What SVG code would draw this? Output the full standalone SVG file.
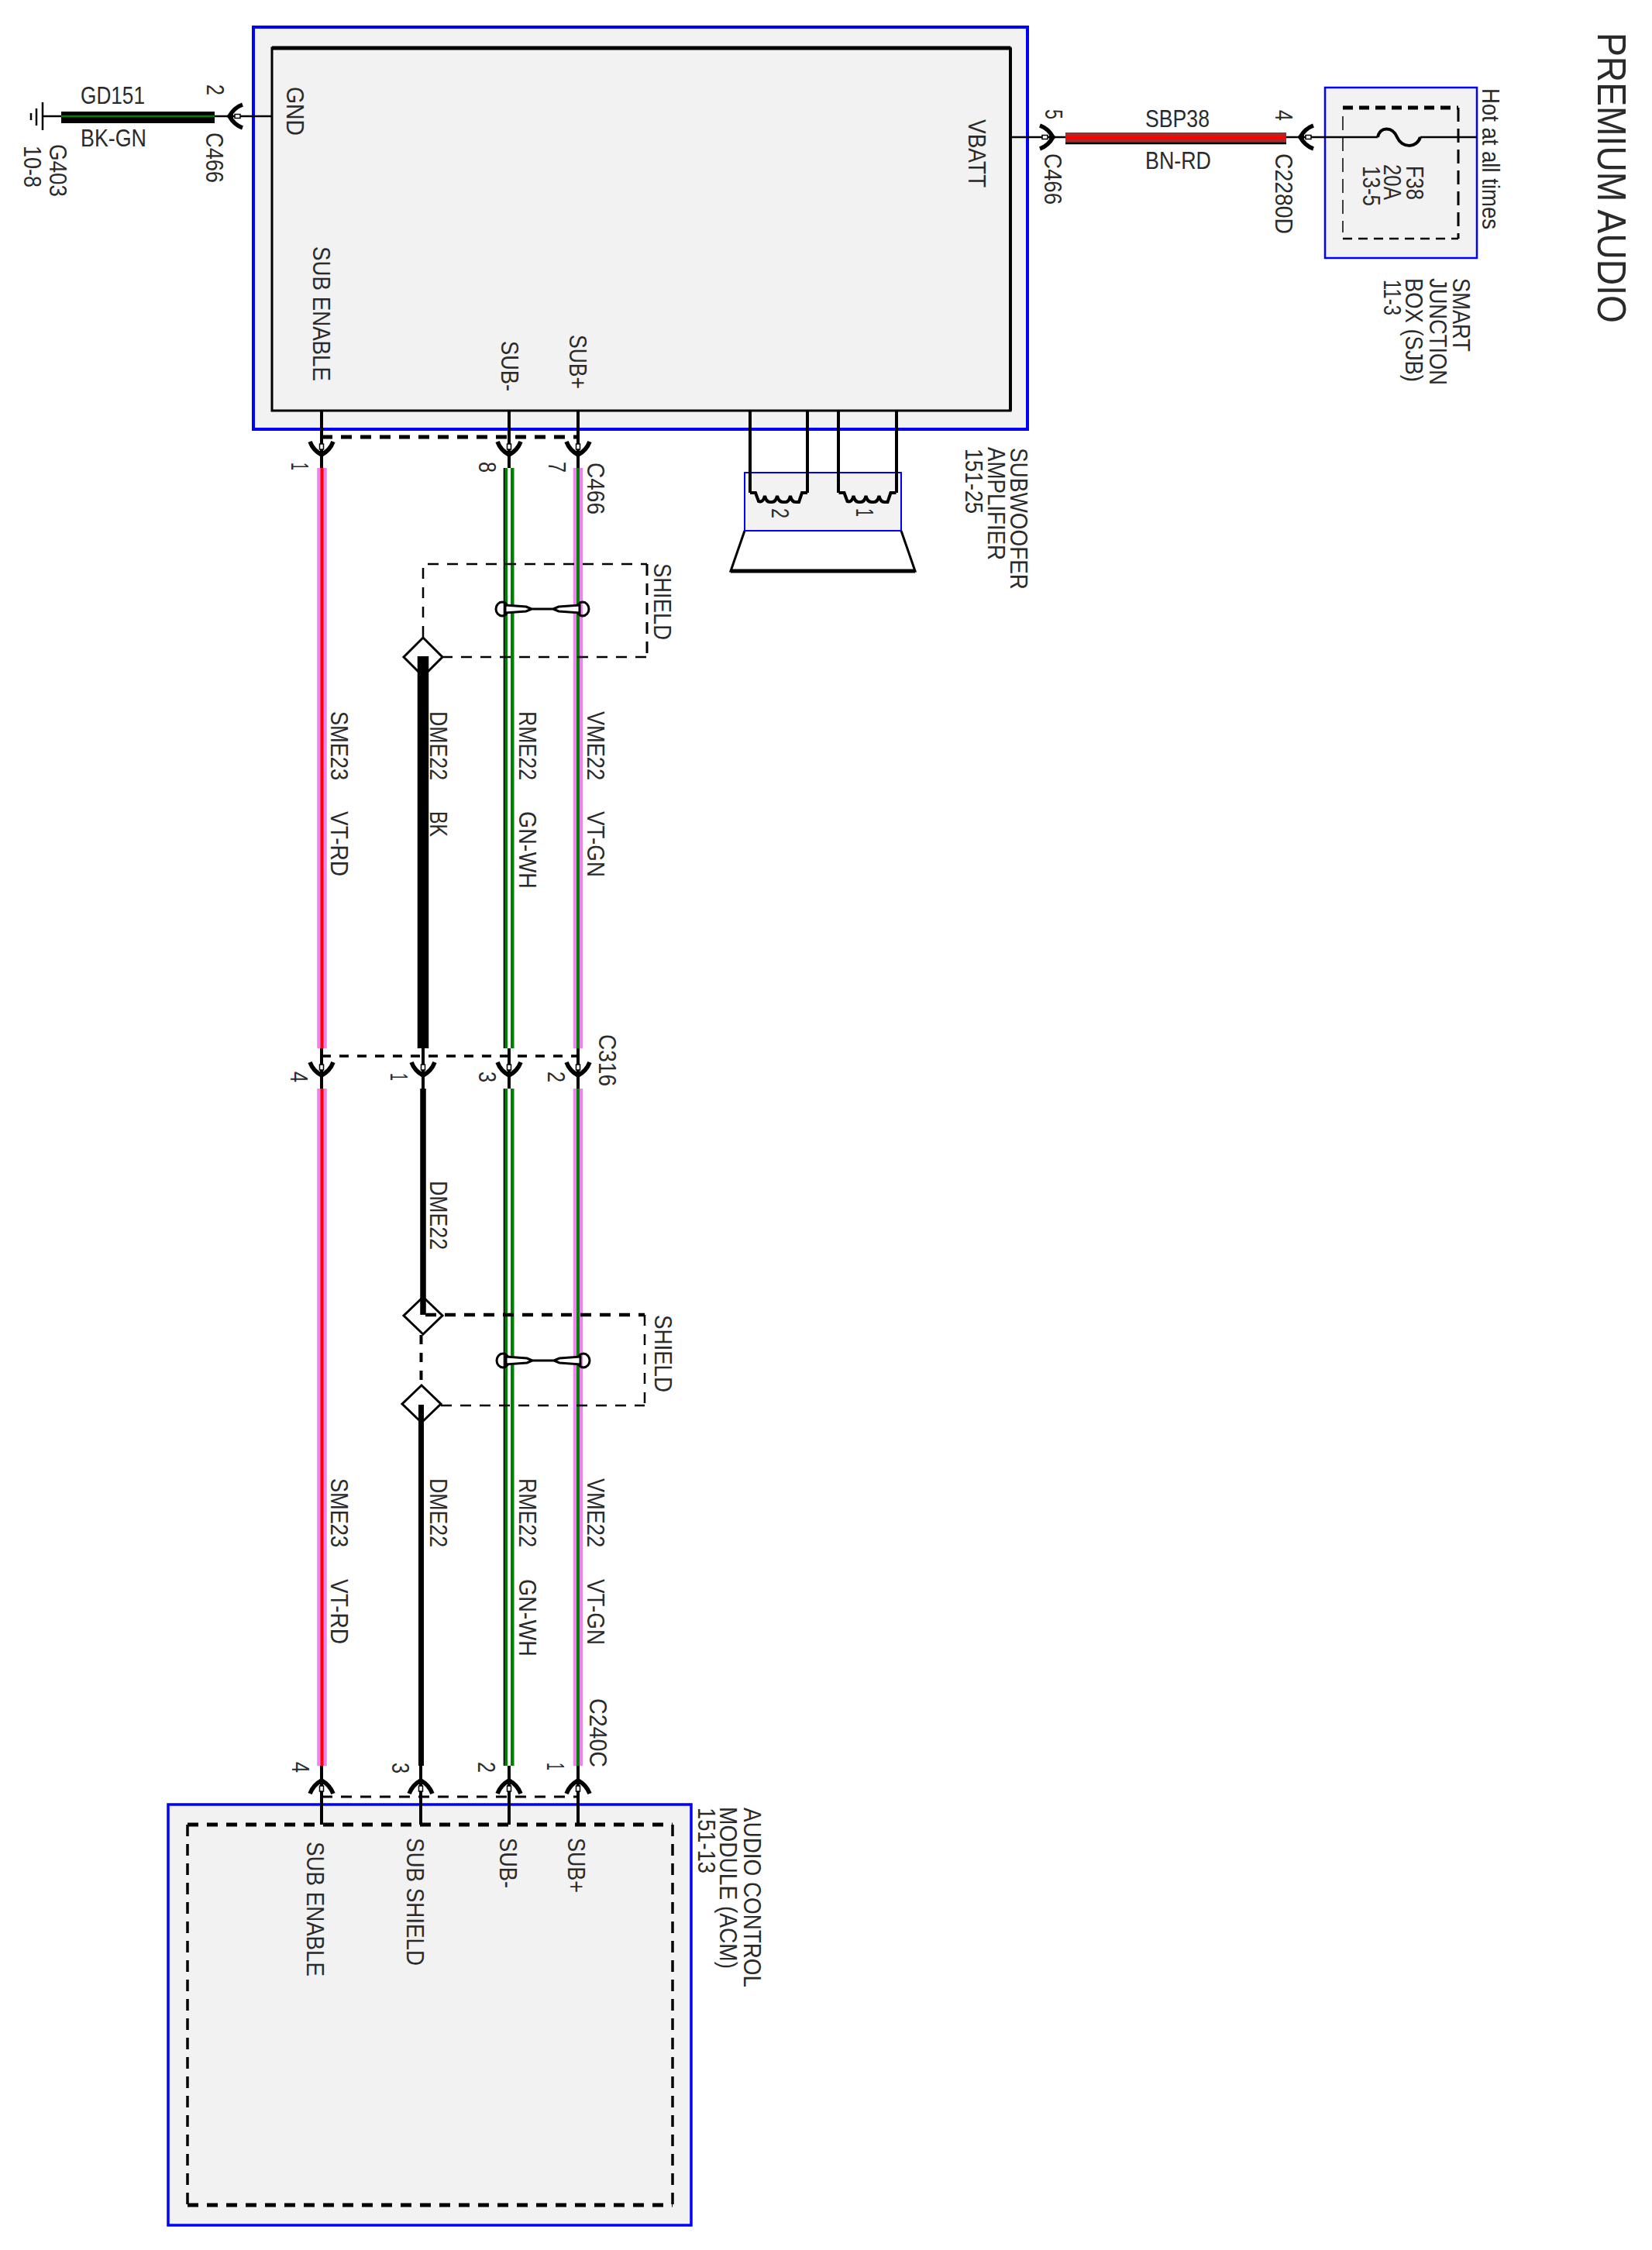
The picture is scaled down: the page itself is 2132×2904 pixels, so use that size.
<svg xmlns="http://www.w3.org/2000/svg" xmlns:xlink="http://www.w3.org/1999/xlink" width="2132" height="2904" viewBox="0 0 2132 2904">
<style>
text{font-family:"Liberation Sans",Arial,sans-serif;font-size:30.500px;fill:#2a2a2a}
.box{fill:#f2f2f2;stroke:#0000ff;stroke-width:4}
.inner{fill:none;stroke:#000;stroke-width:3}
.w{fill:none;stroke:#000;stroke-width:4}
.thin{fill:none;stroke:#000;stroke-width:2.5}
.d1{fill:none;stroke:#000;stroke-width:5;stroke-dasharray:14 11}
.d2{fill:none;stroke:#000;stroke-width:3.5;stroke-dasharray:12 11}
.d3{fill:none;stroke:#000;stroke-width:2.5;stroke-dasharray:14 11}
.d4{fill:none;stroke:#000;stroke-width:3.5;stroke-dasharray:15 10}
.vio{fill:none;stroke:#ee82ee;stroke-width:12.5}
.red{fill:none;stroke:#ff0000;stroke-width:4}
.grn{fill:none;stroke:#008000;stroke-width:4}
.gw{fill:none;stroke:#008000;stroke-width:13}
.gwc{fill:none;stroke:#fff;stroke-width:4}
.gwe{fill:none;stroke:#000;stroke-width:1.6}
.dia{fill:none;stroke:#000;stroke-width:3}
</style>
<defs>
<g id="chev">
<path d="M-15,-18Q-11,-7 0,-1Q11,-7 15,-18" fill="none" stroke="#000" stroke-width="5.500"/>
<path d="M-5,-6L0,4L5,-6Z" fill="#000"/>
<rect x="-2.500" y="-15" width="5" height="7" fill="#fff" stroke="#000" stroke-width="1.500"/>
</g>
<path id="coil" d="M968,636H975L979,647Q985,649 987,640Q989,649 995,648Q1001,649 1003,640Q1005,649 1012,648Q1018,649 1020,640Q1022,649 1028,648H1031L1035,636H1042" fill="none" stroke="#000" stroke-width="4"/>
<g id="twist">
<ellipse cx="648" cy="786" rx="8" ry="9" fill="none" stroke="#000" stroke-width="3"/>
<ellipse cx="752" cy="786" rx="8" ry="9" fill="none" stroke="#000" stroke-width="3"/>
<path d="M652,781L679,783L686,786H714L721,783L748,781V791L721,789L714,786H686L679,789L652,791Z" fill="#fff" stroke="#000" stroke-width="3"/>
</g>
</defs>

<g id="amplifier">
<rect class="box" x="327" y="35" width="999" height="519"/>
<rect class="inner" x="351" y="62" width="953" height="468"/>
<path d="M351,62H1304" stroke="#000" stroke-width="5" fill="none"/>
<path d="M1304,62V530" stroke="#000" stroke-width="4" fill="none"/>
<text transform="translate(370,112) rotate(90)" textLength="63" lengthAdjust="spacingAndGlyphs">GND</text>
<text transform="translate(404,318) rotate(90)" textLength="174" lengthAdjust="spacingAndGlyphs">SUB ENABLE</text>
<text transform="translate(647,440) rotate(90)" textLength="65" lengthAdjust="spacingAndGlyphs">SUB-</text>
<text transform="translate(735,432) rotate(90)" textLength="70" lengthAdjust="spacingAndGlyphs">SUB+</text>
<text transform="translate(1250,154) rotate(90)" textLength="88" lengthAdjust="spacingAndGlyphs">VBATT</text>
<text transform="translate(1304,578) rotate(90)" textLength="183" lengthAdjust="spacingAndGlyphs">SUBWOOFER</text>
<text transform="translate(1275,577) rotate(90)" textLength="146" lengthAdjust="spacingAndGlyphs">AMPLIFIER</text>
<text transform="translate(1246,579) rotate(90)" textLength="84" lengthAdjust="spacingAndGlyphs">151-25</text>
</g>

<g id="speaker">
<rect x="961" y="610" width="202" height="75" fill="#f2f2f2" stroke="#0000ff" stroke-width="2"/>
<path d="M961,685L943,737H1181L1163,685" fill="none" stroke="#000" stroke-width="3"/>
<path d="M943,737H1181" fill="none" stroke="#000" stroke-width="5"/>
<path class="w" d="M968,530V636M1042,530V636M1082,530V636M1157,530V636"/>
<use xlink:href="#coil" href="#coil"/>
<use xlink:href="#coil" href="#coil" transform="translate(114.500,0)"/>
<text transform="translate(996,656) rotate(90)" textLength="13" lengthAdjust="spacingAndGlyphs">2</text>
<text transform="translate(1105,656) rotate(90)" textLength="11" lengthAdjust="spacingAndGlyphs">1</text>
</g>

<g id="sjb">
<rect x="1710" y="113" width="196" height="220" fill="#f2f2f2" stroke="#0000ff" stroke-width="2.500"/>
<path d="M1733,139H1882" fill="none" stroke="#000" stroke-width="5" stroke-dasharray="13 8"/>
<path d="M1882,139V308" fill="none" stroke="#000" stroke-width="3" stroke-dasharray="18 9"/>
<path d="M1733,308H1882" fill="none" stroke="#000" stroke-width="2.500" stroke-dasharray="12 8"/>
<path d="M1733,150V300" fill="none" stroke="#000" stroke-width="1.500" stroke-dasharray="18 9"/>
<path class="thin" d="M1778,177C1781,163 1797,163 1803,177C1809,191 1828,192 1833,177" style="stroke-width:4"/>
<text transform="translate(1815,214) rotate(90)" textLength="44" lengthAdjust="spacingAndGlyphs">F38</text>
<text transform="translate(1786,212) rotate(90)" textLength="46" lengthAdjust="spacingAndGlyphs">20A</text>
<text transform="translate(1759,214) rotate(90)" textLength="52" lengthAdjust="spacingAndGlyphs">13-5</text>
<text transform="translate(1913,114) rotate(90)" textLength="182" lengthAdjust="spacingAndGlyphs">Hot at all times</text>
<text transform="translate(1875,359) rotate(90)" textLength="95" lengthAdjust="spacingAndGlyphs">SMART</text>
<text transform="translate(1845,359) rotate(90)" textLength="138" lengthAdjust="spacingAndGlyphs">JUNCTION</text>
<text transform="translate(1814,359) rotate(90)" textLength="134" lengthAdjust="spacingAndGlyphs">BOX (SJB)</text>
<text transform="translate(1786,361) rotate(90)" textLength="46" lengthAdjust="spacingAndGlyphs">11-3</text>
</g>

<g id="acm">
<rect x="217" y="2329" width="675" height="543" fill="#f2f2f2" stroke="#0000ff" stroke-width="3.500"/>
<path class="d1" d="M242,2355H868"/>
<path class="d4" d="M868,2355V2846M242,2355V2846"/>
<path class="d1" d="M242,2846H868"/>
<text transform="translate(396,2377) rotate(90)" textLength="174" lengthAdjust="spacingAndGlyphs">SUB ENABLE</text>
<text transform="translate(525,2372) rotate(90)" textLength="165" lengthAdjust="spacingAndGlyphs">SUB SHIELD</text>
<text transform="translate(645,2372) rotate(90)" textLength="65" lengthAdjust="spacingAndGlyphs">SUB-</text>
<text transform="translate(733,2372) rotate(90)" textLength="71" lengthAdjust="spacingAndGlyphs">SUB+</text>
<text transform="translate(960,2333) rotate(90)" textLength="232" lengthAdjust="spacingAndGlyphs">AUDIO CONTROL</text>
<text transform="translate(929,2332) rotate(90)" textLength="209" lengthAdjust="spacingAndGlyphs">MODULE (ACM)</text>
<text transform="translate(901,2333) rotate(90)" textLength="85" lengthAdjust="spacingAndGlyphs">151-13</text>
</g>

<g id="ground-g403">
<path class="thin" d="M55,132V168"/>
<path class="thin" d="M47,140V162"/>
<path class="thin" d="M40,146V155"/>
<text transform="translate(64,186) rotate(90)" textLength="68" lengthAdjust="spacingAndGlyphs">G403</text>
<text transform="translate(31,188) rotate(90)" textLength="54" lengthAdjust="spacingAndGlyphs">10-8</text>
</g>

<g id="connectors">
<path class="thin" d="M55,150H351M1305,177H1778M1833,177H1906"/>
<path class="w" d="M415,530V604M657,530V604M746,530V604M415,1353V1405M546,1353V1405M657,1353V1405M746,1353V1405M415,2279V2355M543,2279V2355M657,2279V2355M746,2279V2355"/>
<path d="M79,151.500H277" fill="none" stroke="#000" stroke-width="15"/>
<path d="M79,150H277" fill="none" stroke="#008000" stroke-width="2.500"/>
<path d="M1375,178.500H1660" fill="none" stroke="#a52a2a" stroke-width="15"/>
<path d="M1375,178H1660" fill="none" stroke="#ff0000" stroke-width="4"/>
<path d="M1375,185H1660" fill="none" stroke="#000" stroke-width="2.500"/>
<path class="vio" d="M415.500,604V1353M415.500,1405V2279"/>
<path class="red" d="M415.500,604V1353M415.500,1405V2279"/>
<path d="M546,847V1353" fill="none" stroke="#000" stroke-width="14.500"/>
<path d="M546,1405V1697" fill="none" stroke="#000" stroke-width="7.500"/>
<path d="M543.500,1813V2279" fill="none" stroke="#000" stroke-width="7"/>
<path class="gw" d="M657,604V1353M657,1405V2279"/>
<path class="gwc" d="M657,604V1353M657,1405V2279"/>
<path class="gwe" d="M650.500,604V1353M650.500,1405V2279"/>
<path class="vio" d="M746,604V1353M746,1405V2279"/>
<path class="grn" d="M746,604V1353M746,1405V2279"/>
<path class="d1" d="M415,564H746"/>
<path class="d2" d="M415,1363H746"/>
<path class="d3" d="M415,2319H746" style="stroke-width:3"/>
<path class="d3" d="M546,822V728H835"/>
<path class="d4" d="M835,728V848" style="stroke-width:3"/>
<path class="d3" d="M570,848H835"/>
<path class="dia" d="M546,823L571,848L546,873L521,848Z"/>
<path class="d1" d="M549,1697H832" style="stroke-width:4.500"/>
<path class="d3" d="M832,1697V1814"/>
<path class="d3" d="M569,1814H832"/>
<path class="d2" d="M543.500,1723V1788" style="stroke-width:4"/>
<path class="dia" d="M546,1674L571,1698L546,1722L521,1698Z"/>
<path class="dia" d="M544,1788L569,1812L544,1836L519,1812Z"/>
<use xlink:href="#twist" href="#twist"/>
<use xlink:href="#twist" href="#twist" transform="translate(1,970)"/>
<use xlink:href="#chev" href="#chev" transform="translate(295,150) rotate(90)"/>
<use xlink:href="#chev" href="#chev" transform="translate(1360,177) rotate(-90)"/>
<use xlink:href="#chev" href="#chev" transform="translate(1677,177) rotate(90)"/>
<use xlink:href="#chev" href="#chev" transform="translate(415,588)"/>
<use xlink:href="#chev" href="#chev" transform="translate(657,588)"/>
<use xlink:href="#chev" href="#chev" transform="translate(746,588)"/>
<use xlink:href="#chev" href="#chev" transform="translate(415,1389)"/>
<use xlink:href="#chev" href="#chev" transform="translate(546,1389)"/>
<use xlink:href="#chev" href="#chev" transform="translate(657,1389)"/>
<use xlink:href="#chev" href="#chev" transform="translate(746,1389)"/>
<use xlink:href="#chev" href="#chev" transform="translate(415,2297) rotate(180)"/>
<use xlink:href="#chev" href="#chev" transform="translate(543,2297) rotate(180)"/>
<use xlink:href="#chev" href="#chev" transform="translate(657,2297) rotate(180)"/>
<use xlink:href="#chev" href="#chev" transform="translate(746,2297) rotate(180)"/>
</g>

<g id="labels">
<text transform="translate(2062,42) rotate(90)" textLength="375" lengthAdjust="spacingAndGlyphs" style="font-size:52px">PREMIUM AUDIO</text>
<text x="104" y="134" textLength="83" lengthAdjust="spacingAndGlyphs">GD151</text>
<text x="104" y="189" textLength="85" lengthAdjust="spacingAndGlyphs">BK-GN</text>
<text transform="translate(267,109) rotate(90)" textLength="14" lengthAdjust="spacingAndGlyphs">2</text>
<text transform="translate(266,171) rotate(90)" textLength="65" lengthAdjust="spacingAndGlyphs">C466</text>
<text transform="translate(1349,141) rotate(90)" textLength="13" lengthAdjust="spacingAndGlyphs">5</text>
<text transform="translate(1348,198) rotate(90)" textLength="66" lengthAdjust="spacingAndGlyphs">C466</text>
<text transform="translate(1646,142) rotate(90)" textLength="14" lengthAdjust="spacingAndGlyphs">4</text>
<text transform="translate(1646,198) rotate(90)" textLength="104" lengthAdjust="spacingAndGlyphs">C2280D</text>
<text x="1478" y="164" textLength="83" lengthAdjust="spacingAndGlyphs">SBP38</text>
<text x="1478" y="218" textLength="85" lengthAdjust="spacingAndGlyphs">BN-RD</text>

<text transform="translate(376,597) rotate(90)" textLength="10" lengthAdjust="spacingAndGlyphs">1</text>
<text transform="translate(618,596) rotate(90)" textLength="14" lengthAdjust="spacingAndGlyphs">8</text>
<text transform="translate(708,596) rotate(90)" textLength="14" lengthAdjust="spacingAndGlyphs">7</text>
<text transform="translate(758,597) rotate(90)" textLength="67" lengthAdjust="spacingAndGlyphs">C466</text>
<text transform="translate(844,727) rotate(90)" textLength="99" lengthAdjust="spacingAndGlyphs">SHIELD</text>

<text transform="translate(427,918) rotate(90)" textLength="89" lengthAdjust="spacingAndGlyphs">SME23</text>
<text transform="translate(427,1047) rotate(90)" textLength="84" lengthAdjust="spacingAndGlyphs">VT-RD</text>
<text transform="translate(555,918) rotate(90)" textLength="89" lengthAdjust="spacingAndGlyphs">DME22</text>
<text transform="translate(555,1047) rotate(90)" textLength="33" lengthAdjust="spacingAndGlyphs">BK</text>
<text transform="translate(670,918) rotate(90)" textLength="89" lengthAdjust="spacingAndGlyphs">RME22</text>
<text transform="translate(670,1047) rotate(90)" textLength="100" lengthAdjust="spacingAndGlyphs">GN-WH</text>
<text transform="translate(758,918) rotate(90)" textLength="89" lengthAdjust="spacingAndGlyphs">VME22</text>
<text transform="translate(758,1047) rotate(90)" textLength="85" lengthAdjust="spacingAndGlyphs">VT-GN</text>

<text transform="translate(773,1335) rotate(90)" textLength="67" lengthAdjust="spacingAndGlyphs">C316</text>
<text transform="translate(375,1383) rotate(90)" textLength="14" lengthAdjust="spacingAndGlyphs">4</text>
<text transform="translate(504,1385) rotate(90)" textLength="10" lengthAdjust="spacingAndGlyphs">1</text>
<text transform="translate(618,1383) rotate(90)" textLength="14" lengthAdjust="spacingAndGlyphs">3</text>
<text transform="translate(707,1383) rotate(90)" textLength="14" lengthAdjust="spacingAndGlyphs">2</text>

<text transform="translate(555,1524) rotate(90)" textLength="89" lengthAdjust="spacingAndGlyphs">DME22</text>
<text transform="translate(845,1697) rotate(90)" textLength="100" lengthAdjust="spacingAndGlyphs">SHIELD</text>

<text transform="translate(427,1908) rotate(90)" textLength="89" lengthAdjust="spacingAndGlyphs">SME23</text>
<text transform="translate(427,2038) rotate(90)" textLength="84" lengthAdjust="spacingAndGlyphs">VT-RD</text>
<text transform="translate(555,1908) rotate(90)" textLength="89" lengthAdjust="spacingAndGlyphs">DME22</text>
<text transform="translate(670,1908) rotate(90)" textLength="89" lengthAdjust="spacingAndGlyphs">RME22</text>
<text transform="translate(670,2038) rotate(90)" textLength="100" lengthAdjust="spacingAndGlyphs">GN-WH</text>
<text transform="translate(758,1908) rotate(90)" textLength="89" lengthAdjust="spacingAndGlyphs">VME22</text>
<text transform="translate(758,2038) rotate(90)" textLength="85" lengthAdjust="spacingAndGlyphs">VT-GN</text>

<text transform="translate(761,2192) rotate(90)" textLength="89" lengthAdjust="spacingAndGlyphs">C240C</text>
<text transform="translate(377,2274) rotate(90)" textLength="14" lengthAdjust="spacingAndGlyphs">4</text>
<text transform="translate(506,2275) rotate(90)" textLength="14" lengthAdjust="spacingAndGlyphs">3</text>
<text transform="translate(617,2274) rotate(90)" textLength="14" lengthAdjust="spacingAndGlyphs">2</text>
<text transform="translate(706,2275) rotate(90)" textLength="10" lengthAdjust="spacingAndGlyphs">1</text>
</g>
</svg>
